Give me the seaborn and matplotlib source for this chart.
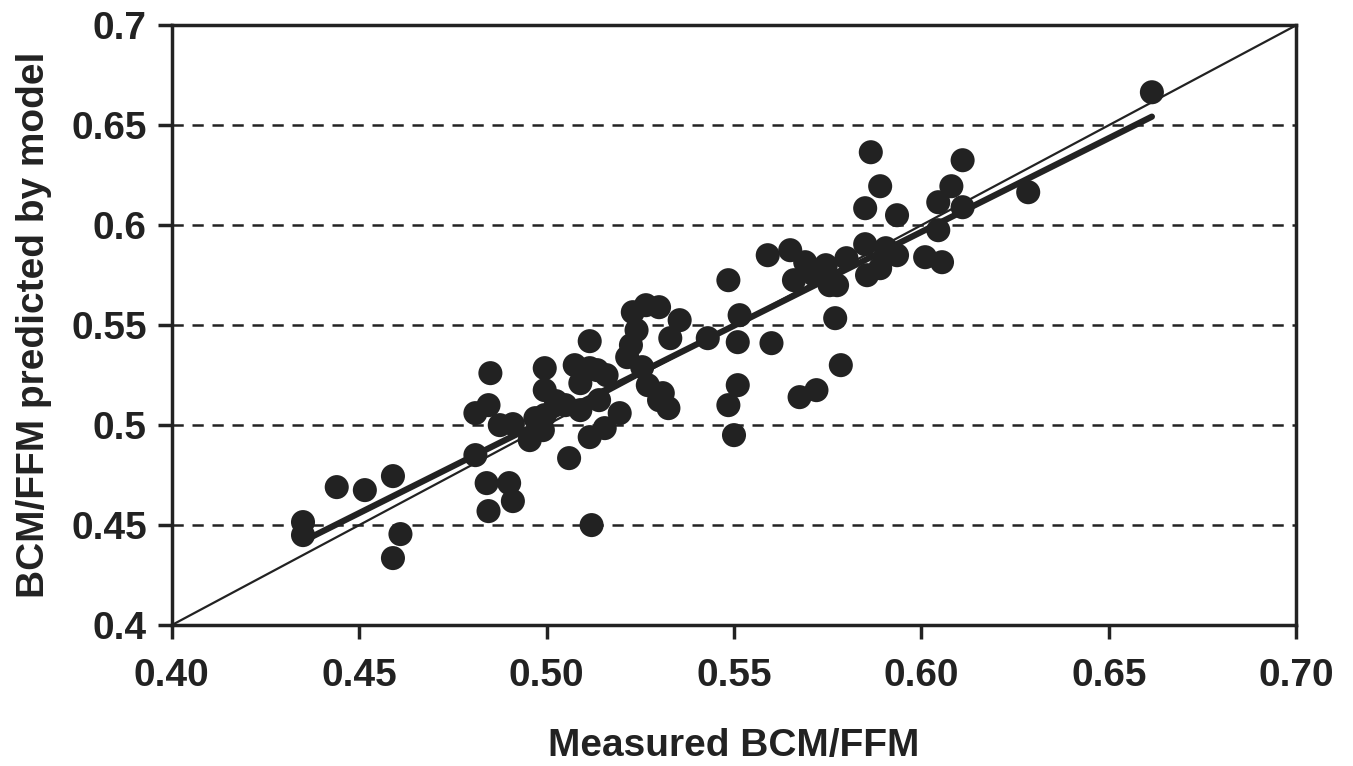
import matplotlib
matplotlib.use("Agg")
import matplotlib.pyplot as plt
import seaborn as sns
import pandas as pd

# measured BCM/FFM vs model prediction
measured = [
    0.435, 0.435, 0.444, 0.4515, 0.459, 0.461, 0.459, 0.481, 0.481, 0.485,
    0.4845, 0.484, 0.4845, 0.4875, 0.490, 0.491, 0.491, 0.4955, 0.4995, 0.4995,
    0.499, 0.497, 0.506, 0.505, 0.5075, 0.509, 0.5115, 0.509, 0.5115, 0.512,
    0.5135, 0.514, 0.516, 0.5155, 0.5195, 0.5215, 0.523, 0.524, 0.5265, 0.5255,
    0.527, 0.530, 0.530, 0.5325, 0.533, 0.5355, 0.531, 0.543, 0.5485, 0.5485,
    0.550, 0.551, 0.551, 0.5515, 0.560, 0.559, 0.565, 0.566, 0.5675, 0.569,
    0.5715, 0.572, 0.5745, 0.5755, 0.577, 0.5775, 0.5785, 0.580, 0.585, 0.585,
    0.5855, 0.5865, 0.589, 0.589, 0.5905, 0.5935, 0.5935, 0.601, 0.6045, 0.6045,
    0.6055, 0.608, 0.611, 0.611, 0.6285, 0.6615, 0.5115, 0.5025, 0.4995, 0.5225,
]
predicted = [
    0.4515, 0.445, 0.469, 0.4675, 0.4745, 0.4455, 0.4335, 0.485, 0.506, 0.526,
    0.510, 0.471, 0.457, 0.500, 0.471, 0.462, 0.5005, 0.4925, 0.5285, 0.5175,
    0.4975, 0.5035, 0.4835, 0.510, 0.530, 0.521, 0.542, 0.5075, 0.494, 0.450,
    0.5275, 0.5125, 0.525, 0.4985, 0.506, 0.534, 0.5565, 0.5475, 0.560, 0.529,
    0.520, 0.559, 0.5125, 0.5085, 0.5435, 0.5525, 0.516, 0.5435, 0.5725, 0.510,
    0.495, 0.520, 0.5415, 0.555, 0.541, 0.585, 0.5875, 0.5725, 0.514, 0.5815,
    0.575, 0.5175, 0.580, 0.570, 0.5535, 0.570, 0.530, 0.5835, 0.6085, 0.5905,
    0.575, 0.6365, 0.6195, 0.5785, 0.5885, 0.585, 0.605, 0.584, 0.6115, 0.5975,
    0.5815, 0.6195, 0.6325, 0.609, 0.6165, 0.6665, 0.5285, 0.512, 0.505, 0.540,
]
xticks = [0.40, 0.45, 0.50, 0.55, 0.60, 0.65, 0.70]
yticks = [0.4, 0.45, 0.5, 0.55, 0.6, 0.65, 0.7]

df = pd.DataFrame({"measured": measured, "predicted": predicted})

sns.set_style("ticks")
plt.rcParams["font.family"] = ["Liberation Sans", "DejaVu Sans"]
plt.rcParams["font.weight"] = "bold"

ink = "#222222"
fig = plt.figure(figsize=(13.53, 7.66), dpi=100)
ax = fig.add_axes([0.127, 0.184, 0.831, 0.783])

# dashed reference lines
for yv in yticks[1:-1]:
    ax.axhline(yv, color=ink, lw=1.8, ls=(0, (4.5, 3.5)), zorder=0)

# line of identity
ax.plot([0.4, 0.7], [0.4, 0.7], color=ink, lw=1.6, zorder=1)

sns.regplot(data=df, x="measured", y="predicted", ax=ax, ci=None,
            scatter_kws=dict(s=300, color=ink, edgecolor="none", alpha=1, zorder=3),
            line_kws=dict(color=ink, lw=4.5, zorder=2, solid_capstyle="round"))

ax.set_xlim(0.4, 0.7)
ax.set_ylim(0.4, 0.7)
ax.set_xticks(xticks)
ax.set_xticklabels([f"{v:.2f}" for v in xticks])
ax.set_yticks(yticks)
ax.set_yticklabels([f"{v:g}" for v in yticks])
ax.tick_params(direction="out", length=10, width=2.5, color=ink,
               labelsize=28, labelcolor=ink, pad=8)
ax.tick_params(axis="x", pad=14)
for s in ax.spines.values():
    s.set_linewidth(2.5)
    s.set_color(ink)

ax.set_xlabel("Measured BCM/FFM", fontsize=28, fontweight="bold", color=ink, labelpad=24)
ax.set_ylabel("BCM/FFM predicted by model", fontsize=28, fontweight="bold", color=ink, labelpad=14)

fig.savefig("out.png", dpi=100)
